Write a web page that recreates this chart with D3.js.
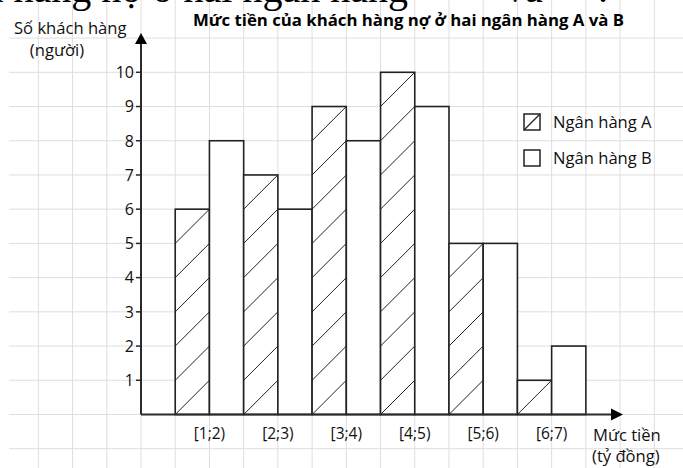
<!DOCTYPE html>
<html>
<head>
<meta charset="utf-8">
<script src="https://cdn.jsdelivr.net/npm/d3@7"></script>
<style>
  body { margin: 0; background: #fff; }
  svg { display: block; font-family: "Open Sans", "Noto Sans", sans-serif; }
</style>
</head>
<body>
<svg id="chart" width="683" height="468"></svg>
<script>
const categories = ['[1;2)', '[2;3)', '[3;4)', '[4;5)', '[5;6)', '[6;7)']
const bankA = [6, 7, 9, 10, 5, 1]
const bankB = [8, 6, 8, 9, 5, 2]
const yTicks = [1, 2, 3, 4, 5, 6, 7, 8, 9, 10]
const seriesNames = ['Ngân hàng A', 'Ngân hàng B']

const svg = d3.select('#chart')
const cell = 34.22
const x0 = 141, y0 = 414.5

// y scale in customers, x band per money interval (each band = 2 grid cells)
const y = d3.scaleLinear().domain([0, 10]).range([y0, y0 - 10 * cell])
const x = d3.scaleBand()
    .domain(categories)
    .range([x0 + cell, x0 + cell * 13])
    .paddingInner(0).paddingOuter(0)
const bw = x.bandwidth() / 2

// background grid
const gridX = d3.range(-3, 16).map(i => x0 + i * cell)
const gridY = d3.range(-1, 12).map(v => y(v))
svg.append('g').selectAll('line').data(gridX).enter().append('line')
    .attr('x1', d => d).attr('x2', d => d)
    .attr('y1', 0).attr('y2', 468)
    .attr('stroke', '#dedede').attr('stroke-width', 1)
svg.append('g').selectAll('line').data(gridY).enter().append('line')
    .attr('x1', 9).attr('x2', 683)
    .attr('y1', d => d).attr('y2', d => d)
    .attr('stroke', '#dedede').attr('stroke-width', 1)

// cropped line of the document above the chart (only its lower edge shows)
const topLine = svg.append('g')
    .style('font-family', '"Liberation Serif", serif')
    .style('font-size', '40px')
topLine.append('text').attr('x', -92).attr('y', 2).text('khách hàng nợ ở hai ngân hàng')
topLine.append('text').attr('x', 505).attr('y', 2).text('và')
topLine.append('text').attr('x', 598).attr('y', 2).text('.')

// bars
const groups = svg.append('g').selectAll('g').data(categories).enter().append('g')

groups.append('rect')
    .attr('x', d => x(d))
    .attr('y', (d, i) => y(bankA[i]))
    .attr('width', bw)
    .attr('height', (d, i) => y0 - y(bankA[i]))
    .attr('fill', '#fff').attr('stroke', '#222').attr('stroke-width', 1.6)

// hatching for bank A: one diagonal per unit
groups.each(function(d, i) {
    d3.select(this).selectAll('line.hatch')
        .data(d3.range(bankA[i]))
        .enter().append('line')
        .attr('class', 'hatch')
        .attr('x1', x(d)).attr('x2', x(d) + bw)
        .attr('y1', k => y(k)).attr('y2', k => y(k + 1))
        .attr('stroke', '#222').attr('stroke-width', 1)
})

groups.append('rect')
    .attr('x', d => x(d) + bw)
    .attr('y', (d, i) => y(bankB[i]))
    .attr('width', bw)
    .attr('height', (d, i) => y0 - y(bankB[i]))
    .attr('fill', '#fff').attr('stroke', '#222').attr('stroke-width', 1.6)

// axes
const axisColor = '#2a2a2a'
svg.append('line')
    .attr('x1', x0).attr('x2', x0).attr('y1', y0).attr('y2', 42)
    .attr('stroke', axisColor).attr('stroke-width', 2)
svg.append('path')
    .attr('d', `M${x0},33 L${x0 - 6},44 L${x0 + 6},44 Z`)
    .attr('fill', '#000')
svg.append('line')
    .attr('x1', x0).attr('x2', 614).attr('y1', y0).attr('y2', y0)
    .attr('stroke', axisColor).attr('stroke-width', 2)
svg.append('path')
    .attr('d', `M623,${y0} L611,${y0 - 6} L611,${y0 + 6} Z`)
    .attr('fill', '#000')

// y ticks
const yt = svg.append('g').selectAll('g').data(yTicks).enter().append('g')
yt.append('line')
    .attr('x1', x0 - 5).attr('x2', x0)
    .attr('y1', d => y(d)).attr('y2', d => y(d))
    .attr('stroke', axisColor).attr('stroke-width', 1.5)
yt.append('text')
    .attr('x', x0 - 7).attr('y', d => y(d))
    .attr('dy', '0.36em')
    .attr('text-anchor', 'end')
    .style('font-size', '16px').attr('fill', '#111')
    .text(d => d)

// x labels
svg.append('g').selectAll('text').data(categories).enter().append('text')
    .attr('x', d => x(d) + bw)
    .attr('y', 439)
    .attr('text-anchor', 'middle')
    .style('font-size', '15.5px').attr('fill', '#111')
    .text(d => d)

// axis titles
const lab = '16.6px'
svg.append('text').attr('x', 14).attr('y', 34)
    .style('font-size', lab).attr('fill', '#111').text('Số khách hàng')
svg.append('text').attr('x', 57).attr('y', 56).attr('text-anchor', 'middle')
    .style('font-size', lab).attr('fill', '#111').text('(người)')
svg.append('text').attr('x', 593).attr('y', 441)
    .style('font-size', lab).attr('fill', '#111').text('Mức tiền')
svg.append('text').attr('x', 592).attr('y', 462)
    .style('font-size', lab).attr('fill', '#111').text('(tỷ đồng)')

// chart title
svg.append('text').attr('x', 193).attr('y', 26)
    .style('font-size', '16px').style('font-weight', 'bold')
    .attr('textLength', 431).attr('lengthAdjust', 'spacingAndGlyphs')
    .text('Mức tiền của khách hàng nợ ở hai ngân hàng A và B')

// legend
const legend = svg.append('g').selectAll('g').data(seriesNames).enter().append('g')
    .attr('transform', (d, i) => `translate(524, ${114 + i * 36})`)
legend.append('rect')
    .attr('width', 16).attr('height', 16)
    .attr('fill', '#fff').attr('stroke', '#222').attr('stroke-width', 1.5)
legend.filter((d, i) => i === 0).append('line')
    .attr('x1', 0).attr('y1', 16).attr('x2', 16).attr('y2', 0)
    .attr('stroke', '#222').attr('stroke-width', 1.2)
legend.append('text')
    .attr('x', 29).attr('y', 8).attr('dy', '0.36em')
    .style('font-size', lab).attr('fill', '#111')
    .text(d => d)
</script>
</body>
</html>
